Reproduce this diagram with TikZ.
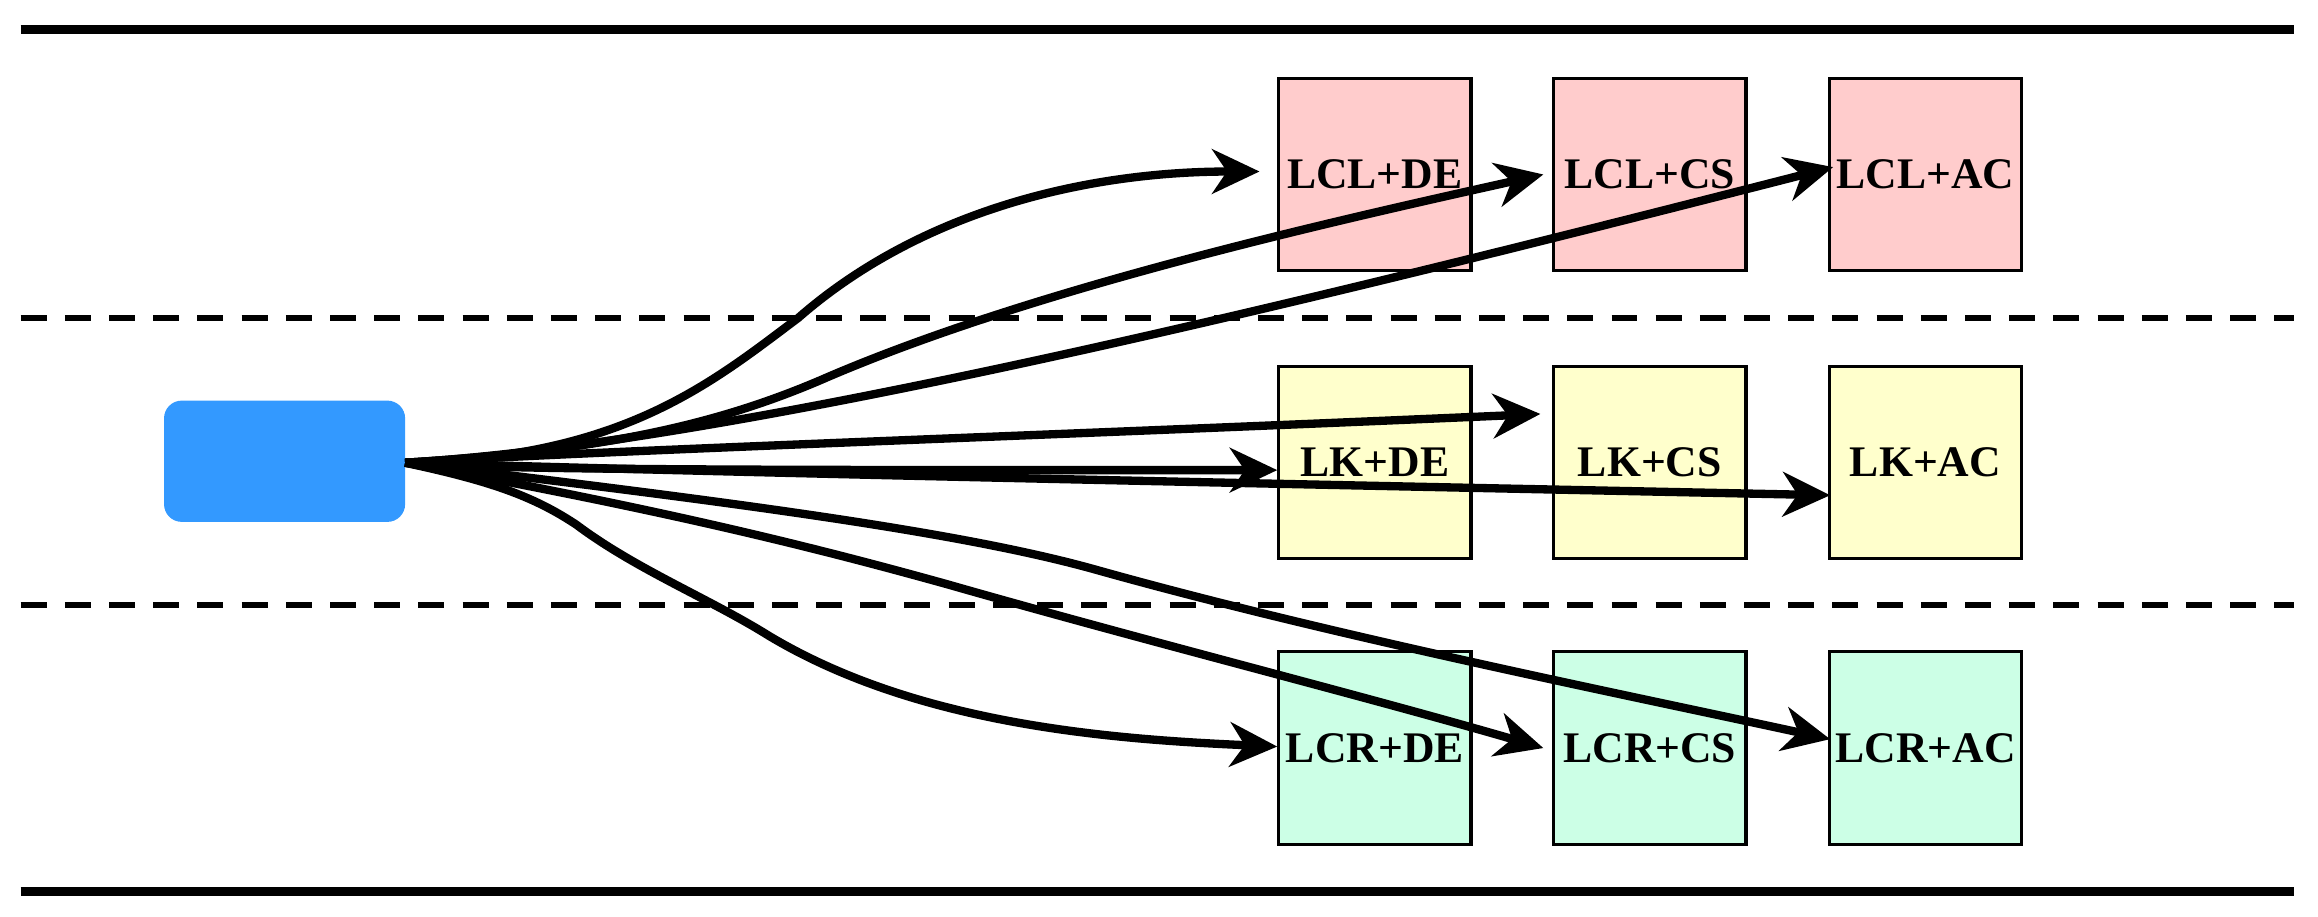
\documentclass[tikz,border=0pt]{standalone}
\usepackage{fontspec}
\setmainfont{Liberation Serif}
\usetikzlibrary{arrows.meta}
\definecolor{blu}{HTML}{3399FF}
\definecolor{pk}{HTML}{FFCCCC}
\definecolor{yl}{HTML}{FFFFCC}
\definecolor{gr}{HTML}{CCFFE6}
\begin{document}
\begin{tikzpicture}[x=0.01cm,y=-0.01cm,
  box/.style={draw=black,line width=0.6pt,minimum width=1.3cm,minimum height=1.3cm,inner sep=0pt,font=\fontsize{8.4}{10}\selectfont\bfseries},
  road/.style={line width=1.7pt},
  lane/.style={line width=1.2pt,dash pattern=on 5pt off 3.5pt},
  arr/.style={line width=1.6pt,-{Stealth[length=0.32cm,width=0.3cm,inset=0.1cm]}}]
\useasboundingbox (0,0) rectangle (1568,620);
\draw[road] (14,20) -- (1552,20);
\draw[road] (14,603) -- (1552,603);
\draw[lane] (14,215) -- (1552,215);
\draw[lane] (14,409) -- (1552,409);
\node[fill=blu,rounded corners=0.12cm,minimum width=1.63cm,minimum height=0.82cm,inner sep=0pt] (car) at (192.5,312) {};
\coordinate (s) at (274,313);
\foreach \n/\t/\x/\y/\c in {a/LCL+DE/930/118/pk,b/LCL+CS/1116/118/pk,c/LCL+AC/1302.5/118/pk,
  d/LK+DE/930/313/yl,e/LK+CS/1116/313/yl,f/LK+AC/1302.5/313/yl,
  g/LCR+DE/930/506/gr,h/LCR+CS/1116/506/gr,i/LCR+AC/1302.5/506/gr}
  \node[box,fill=\c] (\n) at (\x,\y) {\t};
\coordinate (ta) at (852,116);
\coordinate (tb) at (1044,118);
\coordinate (tc) at (1240,113);
\coordinate (te) at (1042,280);
\coordinate (td) at (864,318);
\coordinate (tf) at (1238,335);
\coordinate (ti) at (1238,500);
\coordinate (th) at (1044,506);
\coordinate (tg) at (864,505);
\draw[arr] (s) .. controls (420,310) and (480,260) .. (540,215) .. controls (620,145) and (730,116) .. (ta);
\draw[arr] (s) .. controls (400,305) and (480,290) .. (560,255) .. controls (700,195) and (900,150) .. (tb);
\draw[arr] (s) .. controls (500,300) and (900,200) .. (tc);
\draw[arr] (s) .. controls (400,305) and (700,295) .. (te);
\draw[arr] (s) .. controls (340,318) and (500,318) .. (td);
\draw[arr] (s) .. controls (500,320) and (900,328) .. (tf);
\draw[arr] (s) .. controls (500,340) and (650,360) .. (740,385) .. controls (900,430) and (1100,470) .. (ti);
\draw[arr] (s) .. controls (450,345) and (550,370) .. (640,395) .. controls (780,435) and (920,470) .. (th);
\draw[arr] (s) .. controls (330,325) and (360,335) .. (390,355) .. controls (430,385) and (480,405) .. (520,430) .. controls (620,490) and (750,500) .. (tg);
\end{tikzpicture}
\end{document}
